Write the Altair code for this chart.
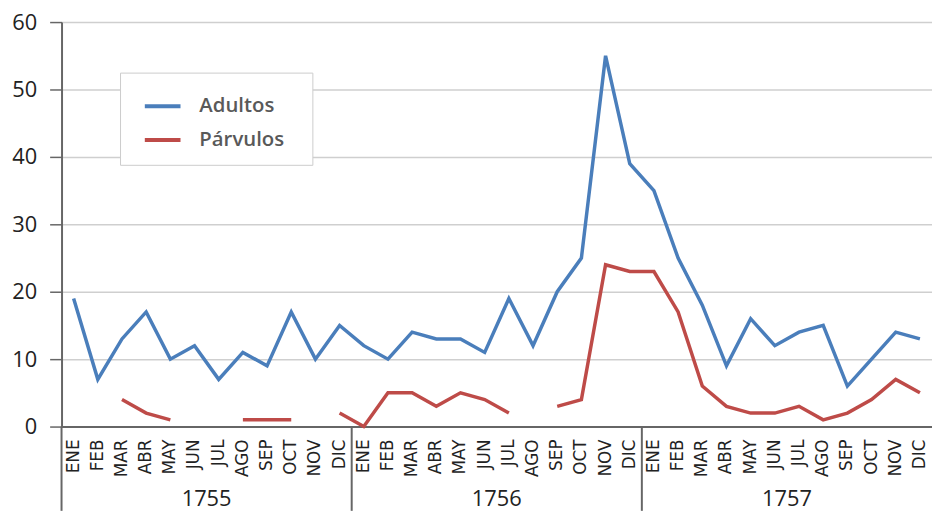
import altair as alt
import pandas as pd
import numpy as np

months = ["ENE", "FEB", "MAR", "ABR", "MAY", "JUN", "JUL", "AGO", "SEP", "OCT", "NOV", "DIC"]
years = ["1755", "1756", "1757"]

adultos = [19, 7, 13, 17, 10, 12, 7, 11, 9, 17, 10, 15,
           12, 10, 14, 13, 13, 11, 19, 12, 20, 25, 55, 39,
           35, 25, 18, 9, 16, 12, 14, 15, 6, 10, 14, 13]
parvulos = [None, None, 4, 2, 1, None, None, 1, 1, 1, None, 2,
            0, 5, 5, 3, 5, 4, 2, None, 3, 4, 24, 23,
            23, 17, 6, 3, 2, 2, 3, 1, 2, 4, 7, 5]

series_names = ["Adultos", "Párvulos"]
series_colors = ["#4a7ebb", "#be4b48"]

n = len(adultos)
rows = []
for i in range(n):
    rows.append({"idx": i, "serie": "Adultos", "valor": adultos[i]})
for i in range(n):
    rows.append({"idx": i, "serie": "Párvulos", "valor": np.nan if parvulos[i] is None else parvulos[i]})
df = pd.DataFrame(rows)

mdf = pd.DataFrame({"idx": list(range(n)), "mes": [months[i % 12] for i in range(n)]})
seps = pd.DataFrame({"pos": [k * 12 - 0.5 for k in range(len(years))]})
yr = pd.DataFrame({"pos": [k * 12 + 5.5 for k in range(len(years))], "year": years})

W, H = 878, 408
xscale = alt.Scale(domain=[-0.5, n - 0.5], nice=False, zero=False)

lines = alt.Chart(df).mark_line(strokeWidth=3.5, invalid="break-paths-show-domains", clip=False).encode(
    x=alt.X("idx:Q", scale=xscale,
            axis=alt.Axis(values=[], labels=False, ticks=False, grid=False, title=None,
                          domainColor="#666", domainWidth=2)),
    y=alt.Y("valor:Q", scale=alt.Scale(domain=[0, 60], nice=False),
            axis=alt.Axis(values=[0, 10, 20, 30, 40, 50, 60], title=None, tickSize=12,
                          tickColor="#666", tickWidth=1.5, domainColor="#666", domainWidth=2,
                          labelFont="Open Sans", labelFontSize=22, labelColor="#222", labelPadding=13,
                          gridColor="#cfcfcf", gridWidth=1.5)),
    color=alt.Color("serie:N", scale=alt.Scale(domain=series_names, range=series_colors),
                    legend=alt.Legend(title="\u00a0", titleOrient="right", titlePadding=14,
                                      titleFontSize=10,
                                      orient="none", legendX=59, legendY=51,
                                      strokeColor="#cccccc", fillColor="white", padding=14,
                                      symbolOffset=9,
                                      symbolType="stroke", symbolStrokeWidth=4, symbolSize=1296,
                                      labelFont="Open Sans", labelFontSize=20.5, labelColor="#595959",
                                      labelFontWeight=600, labelOffset=17, rowPadding=3)),
)

month_text = alt.Chart(mdf).mark_text(angle=270, align="right", baseline="middle",
                                      font="DejaVu Sans", fontSize=17, color="#222").encode(
    x=alt.X("idx:Q", scale=xscale),
    y=alt.value(H + 13),
    text="mes:N",
)

sep_rules = alt.Chart(seps).mark_rule(color="#666", strokeWidth=2, clip=False).encode(
    x=alt.X("pos:Q", scale=xscale),
    y=alt.value(H),
    y2=alt.value(H + 85),
)

year_text = alt.Chart(yr).mark_text(font="Open Sans", fontSize=22, color="#222", baseline="middle").encode(
    x=alt.X("pos:Q", scale=xscale),
    y=alt.value(H + 73),
    text="year:N",
)

chart = alt.layer(lines, month_text, sep_rules, year_text).properties(
    width=W, height=H,
    autosize=alt.AutoSizeParams(type="none"),
    padding={"left": 54, "top": 12, "right": 0, "bottom": 85},
).configure_view(stroke=None)

chart.save("out.html", embed_options={"renderer": "svg", "actions": False})
